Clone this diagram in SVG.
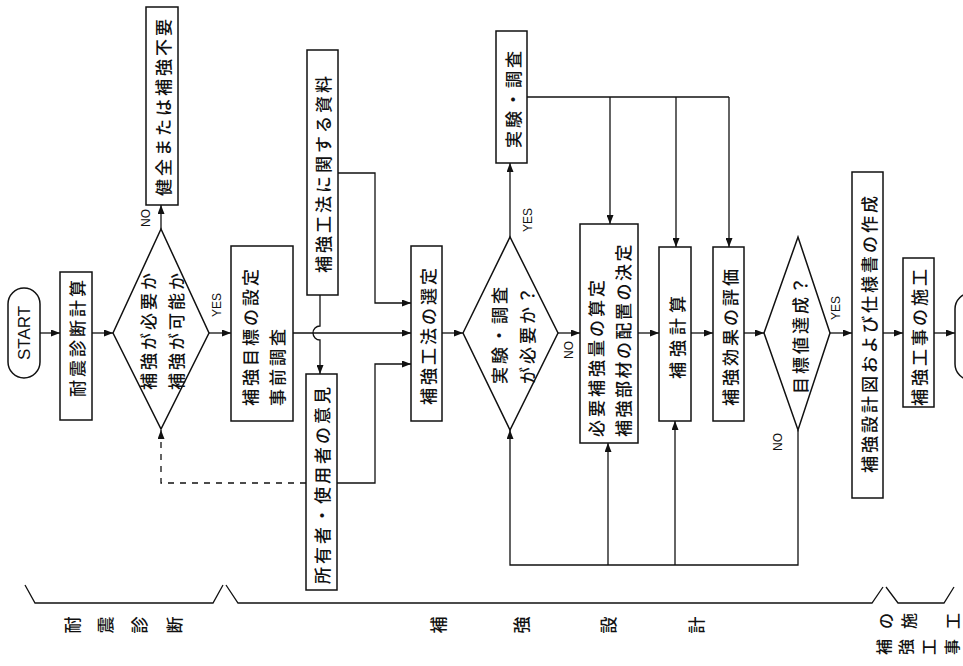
<svg xmlns="http://www.w3.org/2000/svg" width="963" height="666" viewBox="0 0 963 666">
<style>
.box{fill:#fff;stroke:#111;stroke-width:1.5}
.ln{fill:none;stroke:#111;stroke-width:1.3}
.arr{marker-end:url(#ah)}
.dash{fill:none;stroke:#111;stroke-width:1.3;stroke-dasharray:6 6}
.t{font-family:"Noto Sans CJK JP","Noto Sans CJK SC",sans-serif;font-size:17px;font-weight:500;fill:#111;letter-spacing:3px}
.c{text-anchor:middle;dominant-baseline:central}
.s{text-anchor:start;dominant-baseline:central}
.lat{font-family:"Liberation Sans",Arial,sans-serif;fill:#111}
</style>
<defs>
<marker id="ah" markerUnits="userSpaceOnUse" markerWidth="9" markerHeight="7" refX="9" refY="3.5" orient="auto">
<path d="M0,0 L9,3.5 L0,7 z" fill="#111"/>
</marker>
</defs>
<rect width="963" height="666" fill="#fff"/>

<g id="connectors">
<path class="ln arr" d="M40,333 H60"/>
<path class="ln arr" d="M92,333 H113"/>
<path class="ln arr" d="M161,229 V205"/>
<path class="ln arr" d="M209,333 H231"/>
<path class="ln arr" d="M293,333 H411"/>
<path class="ln arr" d="M320,295 V326 A7,7 0 0 0 320,340 V374"/>
<path class="ln arr" d="M338,173 H375 V303 H411"/>
<path class="ln arr" d="M337,483 H375 V364 H411"/>
<path class="dash arr" d="M306,483 H161 V430"/>
<path class="ln arr" d="M442,333 H463"/>
<path class="ln arr" d="M510,237 V163"/>
<path class="ln arr" d="M558,333 H580"/>
<path class="ln" d="M527,97 H729"/>
<path class="ln arr" d="M729,97 V247"/>
<path class="ln arr" d="M610,97 V224"/>
<path class="ln arr" d="M676,97 V247"/>
<path class="ln arr" d="M638,333 H659"/>
<path class="ln arr" d="M691,333 H713"/>
<path class="ln arr" d="M744,333 H764"/>
<path class="ln arr" d="M798,430 V565 H510 V430"/>
<path class="ln arr" d="M608,565 V443"/>
<path class="ln arr" d="M675,565 V421"/>
<path class="ln arr" d="M830,333 H852"/>
<path class="ln arr" d="M883,333 H903"/>
<path class="ln arr" d="M934,333 H955"/>
</g>

<g id="start">
<rect class="box" x="8" y="288" width="32" height="90" rx="16"/>
<text class="lat c" font-size="17" transform="translate(24 333) rotate(-90)">START</text>
</g>

<g id="n-taishin">
<rect class="box" x="60" y="272" width="32" height="148"/>
<text class="t c" transform="translate(76 337) rotate(-90)">耐震診断計算</text>
</g>

<g id="d-hokyo">
<polygon class="box" points="113,333 161,229 209,333 161,429"/>
<text class="t c" transform="translate(147 330) rotate(-90)">補強が必要か</text>
<text class="t c" transform="translate(175 330) rotate(-90)">補強が可能か</text>
<text class="lat c" font-size="12" transform="translate(146 218) rotate(-90)">NO</text>
<text class="lat c" font-size="12" transform="translate(217 305) rotate(-90)">YES</text>
</g>

<g id="n-fuyo">
<rect class="box" x="146" y="7" width="32" height="198"/>
<text class="t c" transform="translate(162 106) rotate(-90)">健全または補強不要</text>
</g>

<g id="n-mokuhyo">
<rect class="box" x="231" y="246" width="62" height="175"/>
<text class="t s" transform="translate(249 406) rotate(-90)">補強目標の設定</text>
<text class="t s" transform="translate(276 406) rotate(-90)">事前調査</text>
</g>

<g id="n-shiryo">
<rect class="box" x="307" y="50" width="31" height="245"/>
<text class="t c" transform="translate(322 173) rotate(-90)">補強工法に関する資料</text>
</g>

<g id="n-iken">
<rect class="box" x="306" y="374" width="31" height="216"/>
<text class="t c" transform="translate(321 484) rotate(-90)">所有者・使用者の意見</text>
</g>

<g id="n-sentei">
<rect class="box" x="411" y="246" width="31" height="175"/>
<text class="t c" transform="translate(427 335) rotate(-90)">補強工法の選定</text>
</g>

<g id="d-jikken">
<polygon class="box" points="463,333 510,237 558,333 510,430"/>
<text class="t c" transform="translate(498 334) rotate(-90)">実験・調査</text>
<text class="t c" transform="translate(526 334) rotate(-90)">が必要か？</text>
<text class="lat c" font-size="12" transform="translate(528 220) rotate(-90)">YES</text>
<text class="lat c" font-size="12" transform="translate(569 350) rotate(-90)">NO</text>
</g>

<g id="n-jikken">
<rect class="box" x="496" y="31" width="31" height="132"/>
<text class="t c" transform="translate(512 98) rotate(-90)">実験・調査</text>
</g>

<g id="n-santei">
<rect class="box" x="580" y="224" width="58" height="219"/>
<text class="t s" transform="translate(595 437) rotate(-90)">必要補強量の算定</text>
<text class="t s" style="letter-spacing:2.5px" transform="translate(622 437) rotate(-90)">補強部材の配置の決定</text>
</g>

<g id="n-keisan">
<rect class="box" x="659" y="247" width="32" height="174"/>
<text class="t c" style="letter-spacing:5px" transform="translate(676 335) rotate(-90)">補強計算</text>
</g>

<g id="n-hyoka">
<rect class="box" x="713" y="247" width="31" height="174"/>
<text class="t c" transform="translate(729 336) rotate(-90)">補強効果の評価</text>
</g>

<g id="d-tassei">
<polygon class="box" points="764,333 798,237 830,333 798,430"/>
<text class="t c" transform="translate(799 334) rotate(-90)">目標値達成？</text>
<text class="lat c" font-size="12" transform="translate(836 308) rotate(-90)">YES</text>
<text class="lat c" font-size="12" transform="translate(778 442) rotate(-90)">NO</text>
</g>

<g id="n-sekkeizu">
<rect class="box" x="852" y="172" width="31" height="326"/>
<text class="t c" transform="translate(868 333) rotate(-90)">補強設計図および仕様書の作成</text>
</g>

<g id="n-seko">
<rect class="box" x="903" y="258" width="31" height="149"/>
<text class="t c" transform="translate(918 336) rotate(-90)">補強工事の施工</text>
</g>

<g id="end">
<rect class="box" x="955" y="293" width="60" height="87" rx="16"/>
</g>

<g id="phases">
<path class="ln" d="M25,585 L35,603 H213 L223,585"/>
<path class="ln" d="M226,585 L238,603 H872 L883,587"/>
<path class="ln" d="M886,587 L898,603 H944 L954,587"/>
<g class="t c" style="letter-spacing:0">
<text transform="translate(71 625) rotate(-90)">耐</text>
<text transform="translate(104 625) rotate(-90)">震</text>
<text transform="translate(138 625) rotate(-90)">診</text>
<text transform="translate(173 625) rotate(-90)">断</text>
<text transform="translate(437 625) rotate(-90)">補</text>
<text transform="translate(520 625) rotate(-90)">強</text>
<text transform="translate(607 625) rotate(-90)">設</text>
<text transform="translate(695 625) rotate(-90)">計</text>
</g>
<g class="t c" style="letter-spacing:0;font-size:16px">
<text transform="translate(885 621) rotate(-90)">の</text>
<text transform="translate(908 621) rotate(-90)">施</text>
<text transform="translate(952 621) rotate(-90)">工</text>
<text transform="translate(883 647) rotate(-90)">補</text>
<text transform="translate(905 647) rotate(-90)">強</text>
<text transform="translate(928 647) rotate(-90)">工</text>
<text transform="translate(951 647) rotate(-90)">事</text>
</g>
</g>
</svg>
